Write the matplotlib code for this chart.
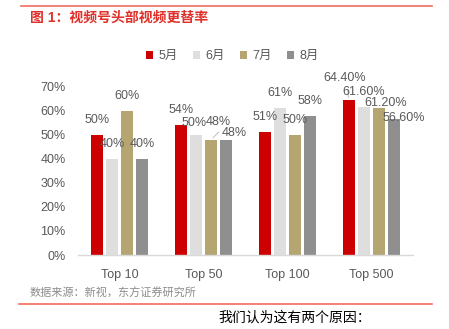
import numpy as np
import matplotlib
matplotlib.use("Agg")
import matplotlib.pyplot as plt
from matplotlib.lines import Line2D
from matplotlib.patches import Patch

plt.rcParams["font.family"] = ["Liberation Sans", "Noto Sans CJK SC", "DejaVu Sans"]

# --- data ---
categories = ["Top 10", "Top 50", "Top 100", "Top 500"]
months = ["5月", "6月", "7月", "8月"]
may = [50, 54, 51, 64.4]
june = [40, 50, 61, 61.6]
july = [60, 48, 50, 61.2]
august = [40, 48, 58, 56.6]
label_decimals = [0, 0, 0, 2]

series = [may, june, july, august]
colors = ["#CC0000", "#DEDEDE", "#B5A571", "#8F8F8F"]
text_gray = "#595959"

# label nudges in pixels (dx, dy above bar top); default is (0, 15)
nudges = {
    (1, 1): (-2, 12), (1, 2): (7, 18), (1, 3): (8, 7),
    (3, 0): (-4, 22), (3, 2): (7, 5), (3, 3): (10, 1),
}
leaders = {(1, 2), (3, 0)}

W, H = 449, 329
fig = plt.figure(figsize=(W / 100, H / 100), dpi=100)
ax = fig.add_axes([78 / W, 1 - 255 / H, 335 / W, 168.3 / H])

x = np.arange(len(categories))
width = 0.143
pitch = 0.179
offsets = (np.arange(4) - 1.5) * pitch

for j, vals in enumerate(series):
    ax.bar(x + offsets[j], vals, width=width, color=colors[j], zorder=2)
    for i, v in enumerate(vals):
        dx, dy = nudges.get((i, j), (0, 15))
        txt = f"{v:.{label_decimals[i]}f}%"
        ax.annotate(txt, (x[i] + offsets[j], v), xytext=(dx * 0.72, dy * 0.72),
                    textcoords="offset points", ha="center", va="center",
                    fontsize=9, color=text_gray, zorder=3)
        if (i, j) in leaders:
            ax.annotate("", (x[i] + offsets[j], v), xytext=(dx * 0.72 + 2, dy * 0.72 - 6),
                        textcoords="offset points",
                        arrowprops=dict(arrowstyle="-", color="#BFBFBF", lw=0.7))

ax.set_xlim(-0.5, 3.5)
ax.set_ylim(0, 70)
ax.set_yticks(np.arange(0, 71, 10))
ax.set_yticklabels([f"{t}%" for t in range(0, 71, 10)])
ax.set_xticks(x)
ax.set_xticklabels(categories)
ax.tick_params(axis="both", length=0, labelsize=9, labelcolor=text_gray)
ax.tick_params(axis="y", pad=9)
ax.tick_params(axis="x", pad=10)
for side in ["top", "right", "left"]:
    ax.spines[side].set_visible(False)
ax.spines["bottom"].set_color("#D9D9D9")
ax.spines["bottom"].set_linewidth(1)

handles = [Patch(facecolor=c, edgecolor="none") for c in colors]
fig.legend(handles, months, loc="center", bbox_to_anchor=(232 / W, 1 - 56 / H),
           ncol=4, frameon=False, fontsize=9, handlelength=0.6, handleheight=0.6,
           handletextpad=0.4, columnspacing=1.2, labelcolor=text_gray)

# header / footer decoration
fig.add_artist(Line2D([21 / W, 432 / W], [1 - 6 / H] * 2, color="#F26B5E", lw=1.2))
fig.add_artist(Line2D([19 / W, 432 / W], [1 - 304 / H] * 2, color="#F26B5E", lw=1.2))
fig.text(30 / W, 1 - 18 / H, "图 1：视频号头部视频更替率", color="#E0302A",
         fontsize=10, fontweight="bold", va="center", ha="left")
fig.text(30 / W, 1 - 293 / H, "数据来源：新视，东方证券研究所", color="#8C8C8C",
         fontsize=8, va="center", ha="left")
fig.text(218 / W, 1 - 318 / H, "我们认为这有两个原因：", color="black",
         fontsize=10, va="center", ha="left")

fig.savefig("out.png", dpi=100)
